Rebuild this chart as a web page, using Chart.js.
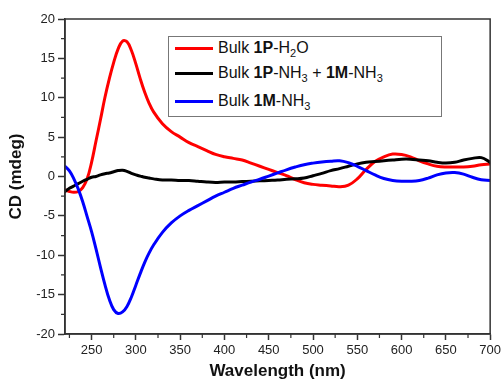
<!DOCTYPE html>
<html>
<head>
<meta charset="utf-8">
<script src="https://cdn.jsdelivr.net/npm/chart.js@4/dist/chart.umd.min.js"></script>
<style>
  html, body { margin: 0; padding: 0; background: #fff; }
  #wrap { position: relative; width: 504px; height: 387px; }
  #c { position: absolute; left: 0; top: 0; }
  #legend { position: absolute; left: 168px; top: 36px; width: 274px; height: 81px;
    border: 1px solid #777; background: #fff; font-family: "Liberation Sans", Arial, sans-serif;
    font-size: 16px; color: #111; box-sizing: border-box; }
  .row { position: absolute; left: 0; height: 20px; line-height: 20px; white-space: nowrap; }
  .sw { position: absolute; left: 6px; top: 9px; width: 38px; height: 3px; }
  .lt { position: absolute; left: 49px; top: 0; }
  .lt sub { font-size: 11px; vertical-align: -4px; line-height: 0; }
</style>
</head>
<body>
<div id="wrap">
  <canvas id="c" width="504" height="387"></canvas>
  <div id="legend"></div>
</div>
<script>
// ---- data ----
const wavelengths = [220,225,230,235,240,245,250,255,260,265,270,275,280,285,290,295,300,305,310,315,
  320,330,340,350,360,370,380,390,400,410,420,430,440,450,460,470,480,490,500,510,520,530,540,550,
  560,570,580,590,600,610,620,630,640,650,660,670,680,690,700];

const bulk1P_H2O = [-1.7,-1.9,-2.0,-1.9,-1.4,-0.3,1.8,4.5,7.2,10.0,12.4,14.5,16.2,17.2,17.1,16.0,14.3,12.4,10.7,9.3,
  8.2,6.7,5.7,5.0,4.3,3.8,3.3,2.8,2.5,2.3,2.1,1.7,1.3,0.9,0.5,0.1,-0.4,-0.8,-1.0,-1.1,-1.2,-1.3,-1.1,-0.3,
  0.9,1.9,2.5,2.85,2.8,2.5,2.0,1.6,1.3,1.2,1.2,1.2,1.3,1.5,1.6];

const bulkMix_NH3 = [-1.9,-1.5,-1.2,-0.9,-0.6,-0.35,-0.1,0.0,0.2,0.35,0.45,0.6,0.75,0.8,0.65,0.4,0.2,0.05,-0.1,-0.2,
  -0.3,-0.45,-0.45,-0.5,-0.5,-0.6,-0.7,-0.75,-0.7,-0.7,-0.65,-0.6,-0.55,-0.5,-0.45,-0.35,-0.3,-0.2,0.1,0.4,0.75,1.0,1.3,1.6,
  1.8,1.9,2.0,2.1,2.2,2.2,2.1,2.0,1.8,1.7,1.8,2.1,2.3,2.4,1.8];

const bulk1M_NH3 = [1.3,0.7,-0.3,-1.6,-3.2,-5.1,-7.0,-9.2,-11.5,-13.7,-15.6,-16.9,-17.4,-17.2,-16.5,-15.3,-13.8,-12.3,-10.9,-9.7,
  -8.7,-7.1,-5.9,-5.0,-4.3,-3.7,-3.1,-2.5,-2.0,-1.5,-1.1,-0.7,-0.35,0.05,0.45,0.85,1.2,1.5,1.7,1.85,1.95,2.0,1.75,1.3,
  0.75,0.2,-0.25,-0.5,-0.6,-0.6,-0.5,-0.2,0.2,0.45,0.5,0.3,-0.1,-0.4,-0.5];

const xTicks = [250,300,350,400,450,500,550,600,650,700];
const xMinorTicks = [225,275,325,375,425,475,525,575,625,675];
const yTicks = [-20,-15,-10,-5,0,5,10,15,20];
const yMinorTicks = [-17.5,-12.5,-7.5,-2.5,2.5,7.5,12.5,17.5];

const seriesLabels = ['Bulk 1P-H2O', 'Bulk 1P-NH3 + 1M-NH3', 'Bulk 1M-NH3'];
const seriesLabelsHtml = ['Bulk <b>1P</b>-H<sub>2</sub>O', 'Bulk <b>1P</b>-NH<sub>3</sub> + <b>1M</b>-NH<sub>3</sub>', 'Bulk <b>1M</b>-NH<sub>3</sub>'];
const seriesColors = ['#ff0000', '#000000', '#0000ff'];
const seriesValues = [bulk1P_H2O, bulkMix_NH3, bulk1M_NH3];

const FONT = '"Liberation Sans", Arial, sans-serif';
const AX = '#333';

const framePlugin = {
  id: 'frame',
  afterDraw(chart) {
    const ctx = chart.ctx;
    const {left, right, top, bottom} = chart.chartArea;
    ctx.save();
    ctx.strokeStyle = AX;
    ctx.lineWidth = 1.5;
    ctx.strokeRect(left, top, right - left, bottom - top);
    ctx.lineWidth = 1.2;
    ctx.beginPath();
    xMinorTicks.forEach(v => {
      const px = chart.scales.x.getPixelForValue(v);
      ctx.moveTo(px, bottom); ctx.lineTo(px, bottom + 4);
    });
    yMinorTicks.forEach(v => {
      const py = chart.scales.y.getPixelForValue(v);
      ctx.moveTo(left, py); ctx.lineTo(left - 4, py);
    });
    ctx.stroke();
    ctx.restore();
  }
};

const datasets = seriesValues.map((vals, i) => ({
  label: seriesLabels[i],
  data: wavelengths.map((w, k) => ({x: w, y: vals[k]})),
  borderColor: seriesColors[i],
  backgroundColor: seriesColors[i],
  borderWidth: 3,
  pointRadius: 0,
  fill: false,
  tension: 0.4,
  borderJoinStyle: 'round',
  borderCapStyle: 'round',
  order: 3 - i
}));

new Chart(document.getElementById('c'), {
  type: 'line',
  data: { datasets },
  plugins: [framePlugin],
  options: {
    responsive: false,
    devicePixelRatio: 1,
    animation: false,
    layout: { padding: { top: 19, right: 12, left: 0, bottom: 0 } },
    plugins: { legend: { display: false }, tooltip: { enabled: false } },
    scales: {
      x: {
        type: 'linear', min: 220, max: 700,
        afterBuildTicks: s => { s.ticks = xTicks.map(v => ({value: v})); },
        afterFit: s => { s.height = 53; },
        grid: { drawOnChartArea: false, drawTicks: true, tickLength: 6, tickColor: AX, tickWidth: 1.5 },
        border: { display: true, color: AX, width: 1.5 },
        ticks: { color: '#222', font: { family: FONT, size: 13 }, padding: 3, maxRotation: 0 },
        title: { display: true, text: 'Wavelength (nm)', color: '#111',
          font: { family: FONT, size: 17, weight: 'bold' }, padding: { top: 0, bottom: 5 } }
      },
      y: {
        type: 'linear', min: -20, max: 20,
        afterBuildTicks: s => { s.ticks = yTicks.map(v => ({value: v})); },
        afterFit: s => { s.width = 65; },
        grid: { drawOnChartArea: false, drawTicks: true, tickLength: 7, tickColor: AX, tickWidth: 1.5 },
        border: { display: true, color: AX, width: 1.5 },
        ticks: { color: '#222', font: { family: FONT, size: 13 }, padding: 3 },
        title: { display: true, text: 'CD (mdeg)', color: '#111',
          font: { family: FONT, size: 17, weight: 'bold' }, padding: { top: 6, bottom: 0 } }
      }
    }
  }
});

// legend (HTML text)
const legend = document.getElementById('legend');
const rowTops = [1, 26, 54];
seriesLabelsHtml.forEach((html, i) => {
  const row = document.createElement('div');
  row.className = 'row';
  row.style.top = rowTops[i] + 'px';
  row.innerHTML = '<span class="sw" style="background:' + seriesColors[i] + '"></span><span class="lt">' + html + '</span>';
  legend.appendChild(row);
});
</script>
</body>
</html>
